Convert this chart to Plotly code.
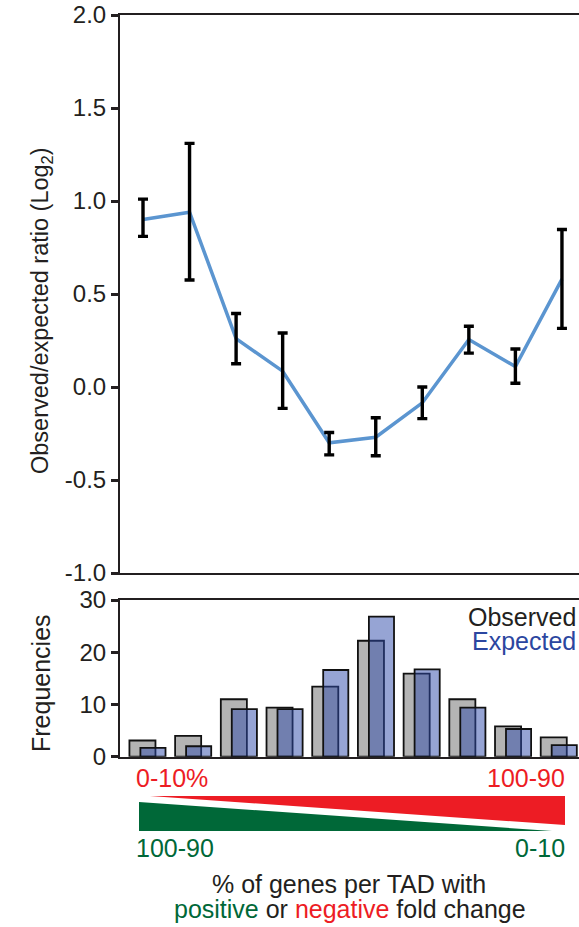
import plotly.graph_objects as go

W, H = 579, 927

# ---------------- data ----------------
bins = list(range(1, 11))
ratio = [0.90, 0.94, 0.26, 0.085, -0.30, -0.27, -0.085, 0.255, 0.11, 0.58]
err_plus = [0.11, 0.37, 0.135, 0.205, 0.055, 0.105, 0.085, 0.072, 0.094, 0.267]
err_minus = [0.09, 0.365, 0.135, 0.20, 0.065, 0.10, 0.085, 0.073, 0.09, 0.265]

observed = [3.1, 4.0, 11.0, 9.4, 13.4, 22.2, 15.9, 11.0, 5.8, 3.7]
expected = [1.7, 2.0, 9.1, 9.1, 16.6, 26.8, 16.7, 9.4, 5.3, 2.2]

top_ticks = [2.0, 1.5, 1.0, 0.5, 0.0, -0.5, -1.0]
top_ticktext = ["2.0", "1.5", "1.0", "0.5", "0.0", "-0.5", "-1.0"]
bot_ticks = [0, 10, 20, 30]
bot_ticktext = ["0", "10", "20", "30"]

FONT = "Liberation Sans, Arial, Helvetica, sans-serif"
INK = "#231f20"
RED = "#ed1c24"
GREEN = "#006838"
BLUE_TXT = "#2b46a0"


def px(x):
    return x / W


def py(y):
    return 1 - y / H


fig = go.Figure()

# line
fig.add_trace(go.Scatter(
    x=bins, y=ratio, mode="lines",
    line=dict(color="#5b95d0", width=3.5),
    xaxis="x", yaxis="y", showlegend=False, hoverinfo="skip"))
# error bars on top
fig.add_trace(go.Scatter(
    x=bins, y=ratio, mode="markers",
    marker=dict(size=1, color="rgba(0,0,0,0)"),
    error_y=dict(type="data", array=err_plus, arrayminus=err_minus,
                 color="#000000", thickness=3.4, width=5),
    xaxis="x", yaxis="y", showlegend=False, hoverinfo="skip"))

# bars
fig.add_trace(go.Bar(
    x=bins, y=observed, offset=-0.40, width=0.57,
    marker=dict(color="#b4b4b4", line=dict(color="#111111", width=1.8)),
    xaxis="x2", yaxis="y2", showlegend=False, hoverinfo="skip"))
fig.add_trace(go.Bar(
    x=bins, y=expected, offset=-0.16, width=0.55,
    marker=dict(color="rgba(45,73,169,0.5)", line=dict(color="#111111", width=1.8)),
    xaxis="x2", yaxis="y2", showlegend=False, hoverinfo="skip"))

line_common = dict(showgrid=False, zeroline=False, linecolor=INK, linewidth=2,
                   automargin=False)
tickfont = dict(family=FONT, size=24, color=INK)

fig.update_layout(
    width=W, height=H, autosize=False,
    margin=dict(l=0, r=0, t=0, b=0, pad=0, autoexpand=False),
    paper_bgcolor="white", plot_bgcolor="white",
    barmode="overlay",
    font=dict(family=FONT, color=INK),
    xaxis=dict(domain=[px(120), 1], range=[1 - 23 / 46.55, 1 + 436 / 46.55],
               showline=True, mirror=True, showticklabels=False, ticks="",
               anchor="y", **line_common),
    yaxis=dict(domain=[py(573), py(15)], range=[-1.0, 2.0],
               showline=True, mirror=False, ticks="outside", ticklen=7, tickwidth=3,
               tickcolor=INK, tickvals=top_ticks, ticktext=top_ticktext,
               tickfont=tickfont, anchor="x", **line_common),
    xaxis2=dict(domain=[px(120), 1], range=[1 - 27.7 / 45.7, 1 + 431.3 / 45.7],
                showline=True, mirror=True, showticklabels=False, ticks="",
                anchor="y2", **line_common),
    yaxis2=dict(domain=[py(756.7), py(600)], range=[0, 30],
                showline=True, mirror=False, ticks="outside", ticklen=7, tickwidth=3,
                tickcolor=INK, tickvals=bot_ticks, ticktext=bot_ticktext,
                tickfont=tickfont, anchor="x2", **line_common),
)

ann = []
# axis titles
ann.append(dict(text="Observed/expected ratio (Log<sub>2</sub>)", x=px(41), y=py(311),
                xref="paper", yref="paper", showarrow=False, textangle=-90,
                font=dict(family=FONT, size=23.5, color=INK), xanchor="center", yanchor="middle"))
ann.append(dict(text="Frequencies", x=px(41), y=py(683),
                xref="paper", yref="paper", showarrow=False, textangle=-90,
                font=dict(family=FONT, size=25, color=INK), xanchor="center", yanchor="middle"))
# legend text
ann.append(dict(text="Observed", x=px(578), y=py(617), xref="paper", yref="paper",
                showarrow=False, xanchor="right", yanchor="middle",
                font=dict(family=FONT, size=25, color=INK)))
ann.append(dict(text="Expected", x=px(578), y=py(641), xref="paper", yref="paper",
                showarrow=False, xanchor="right", yanchor="middle",
                font=dict(family=FONT, size=25, color=BLUE_TXT)))
# gradient labels
ann.append(dict(text="0-10%", x=px(134), y=py(778), xref="paper", yref="paper",
                showarrow=False, xanchor="left", yanchor="middle",
                font=dict(family=FONT, size=25, color=RED)))
ann.append(dict(text="100-90", x=px(567), y=py(778), xref="paper", yref="paper",
                showarrow=False, xanchor="right", yanchor="middle",
                font=dict(family=FONT, size=25, color=RED)))
ann.append(dict(text="100-90", x=px(134), y=py(848), xref="paper", yref="paper",
                showarrow=False, xanchor="left", yanchor="middle",
                font=dict(family=FONT, size=25, color=GREEN)))
ann.append(dict(text="0-10", x=px(567), y=py(848), xref="paper", yref="paper",
                showarrow=False, xanchor="right", yanchor="middle",
                font=dict(family=FONT, size=25, color=GREEN)))
# bottom caption
ann.append(dict(text="% of genes per TAD with", x=px(349), y=py(884), xref="paper", yref="paper",
                showarrow=False, xanchor="center", yanchor="middle",
                font=dict(family=FONT, size=25, color=INK)))
ann.append(dict(text=f"<span style='color:{GREEN}'>positive</span> or "
                     f"<span style='color:{RED}'>negative</span> fold change",
                x=px(350), y=py(909), xref="paper", yref="paper",
                showarrow=False, xanchor="center", yanchor="middle",
                font=dict(family=FONT, size=25, color=INK)))
fig.update_layout(annotations=ann)

# triangles (decorative)
def tri(pts):
    return "M " + " L ".join(f"{px(x)},{py(y)}" for x, y in pts) + " Z"

fig.update_layout(shapes=[
    dict(type="path", xref="paper", yref="paper",
         path=tri([(150, 796), (565, 796), (565, 825)]),
         fillcolor=RED, line=dict(width=0)),
    dict(type="path", xref="paper", yref="paper",
         path=tri([(139, 802), (139, 831), (552, 831)]),
         fillcolor=GREEN, line=dict(width=0)),
])

fig.write_html("out.html")
